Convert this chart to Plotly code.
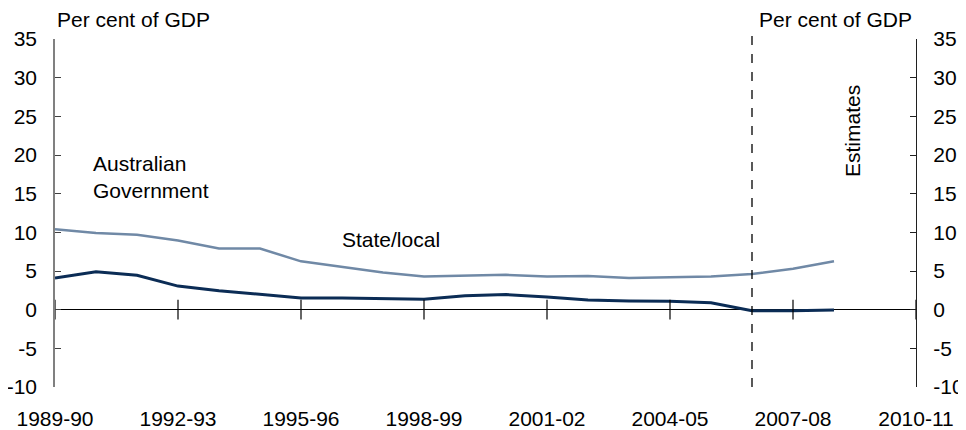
import plotly.graph_objects as go

years = ["1989-90", "1990-91", "1991-92", "1992-93", "1993-94", "1994-95",
         "1995-96", "1996-97", "1997-98", "1998-99", "1999-00", "2000-01",
         "2001-02", "2002-03", "2003-04", "2004-05", "2005-06", "2006-07",
         "2007-08", "2008-09", "2009-10", "2010-11"]
tick_labels = ["1989-90", "1992-93", "1995-96", "1998-99", "2001-02",
               "2004-05", "2007-08", "2010-11"]

series_years = years[:20]
state_local = [10.4, 9.9, 9.7, 8.95, 7.9, 7.9, 6.25, 5.5, 4.8, 4.3, 4.4, 4.5,
               4.3, 4.35, 4.1, 4.2, 4.3, 4.6, 5.3, 6.25]
aus_gov = [4.1, 4.9, 4.45, 3.05, 2.45, 1.95, 1.5, 1.5, 1.4, 1.35, 1.8, 1.95,
           1.65, 1.25, 1.12, 1.08, 0.9, -0.15, -0.15, -0.05]

y_ticks = [-10, -5, 0, 5, 10, 15, 20, 25, 30, 35]
y_tick_text = ["-10", "-5", "0", "5", "10", "15", "20", "25", "30", "35"]
estimates_start = "2006-07"

FONT = "Liberation Sans, Arial, sans-serif"
FS = 21
NAVY = "#0b2c55"
LIGHT = "#7089a6"

fig = go.Figure()

fig.add_trace(go.Scatter(x=series_years, y=state_local, mode="lines",
                         line=dict(color=LIGHT, width=2.5), name="State/local",
                         hoverinfo="skip"))
fig.add_trace(go.Scatter(x=series_years, y=aus_gov, mode="lines",
                         line=dict(color=NAVY, width=3), name="Australian Government",
                         hoverinfo="skip"))
# crossing tick marks on the zero line
fig.add_trace(go.Scatter(x=tick_labels, y=[0] * len(tick_labels), mode="markers",
                         marker=dict(symbol="line-ns-open", size=14, color="#000000",
                                     line=dict(color="#000000", width=1.2)),
                         yaxis="y2", hoverinfo="skip", showlegend=False, cliponaxis=False))

fig.add_shape(type="line", xref="x", yref="paper", x0=estimates_start, x1=estimates_start,
              y0=0, y1=1.02, line=dict(color="#000000", width=1.3, dash="dash"))

fig.update_layout(
    width=958, height=422,
    margin=dict(l=47, r=50, t=31, b=43, autoexpand=False),
    plot_bgcolor="white", paper_bgcolor="white",
    showlegend=False,
    font=dict(family=FONT, size=FS, color="#000000"),
    xaxis=dict(type="category", categoryorder="array", categoryarray=years,
               range=[0, len(years) - 1], tickvals=tick_labels, ticktext=tick_labels,
               showgrid=False, showline=False, ticks="", zeroline=False, automargin=False,
               tickfont=dict(family=FONT, size=FS), ticklabelstandoff=17),
    yaxis=dict(range=[-10, 35], tickvals=y_ticks, ticktext=y_tick_text, showgrid=False,
               showline=True, linecolor="#808080", linewidth=1.5, automargin=False,
               ticks="inside", ticklen=6, tickcolor="#404040",
               zeroline=True, zerolinecolor="#000000", zerolinewidth=1.2,
               tickfont=dict(family=FONT, size=FS), ticklabelstandoff=12),
    yaxis2=dict(range=[-10, 35], tickvals=y_ticks, ticktext=y_tick_text,
                overlaying="y", side="right", automargin=False,
                showgrid=False, showline=True, linecolor="#202020", linewidth=1.2,
                ticks="inside", ticklen=6, tickcolor="#202020", zeroline=False,
                tickfont=dict(family=FONT, size=FS), ticklabelstandoff=12),
)

fig.add_annotation(text="Per cent of GDP", xref="paper", yref="paper", x=0, y=1,
                   xanchor="left", yanchor="middle", xshift=0, yshift=20,
                   showarrow=False, font=dict(family=FONT, size=FS))
fig.add_annotation(text="Per cent of GDP", xref="paper", yref="paper", x=1, y=1,
                   xanchor="right", yanchor="middle", xshift=-2, yshift=20,
                   showarrow=False, font=dict(family=FONT, size=FS))
fig.add_annotation(text="Australian<br>Government", xref="x", yref="y",
                   x=years[1], y=17.1, xanchor="left", yanchor="middle", xshift=-5,
                   align="left", showarrow=False, font=dict(family=FONT, size=FS))
fig.add_annotation(text="State/local", xref="x", yref="y", x=years[7], y=9.1,
                   xanchor="left", yanchor="middle", xshift=-2, showarrow=False,
                   font=dict(family=FONT, size=FS))
fig.add_annotation(text="Estimates", xref="x", yref="y", x=years[19], y=23.1,
                   xanchor="center", yanchor="middle", xshift=18, textangle=-90,
                   showarrow=False, font=dict(family=FONT, size=FS))

fig.write_html("out.html")
